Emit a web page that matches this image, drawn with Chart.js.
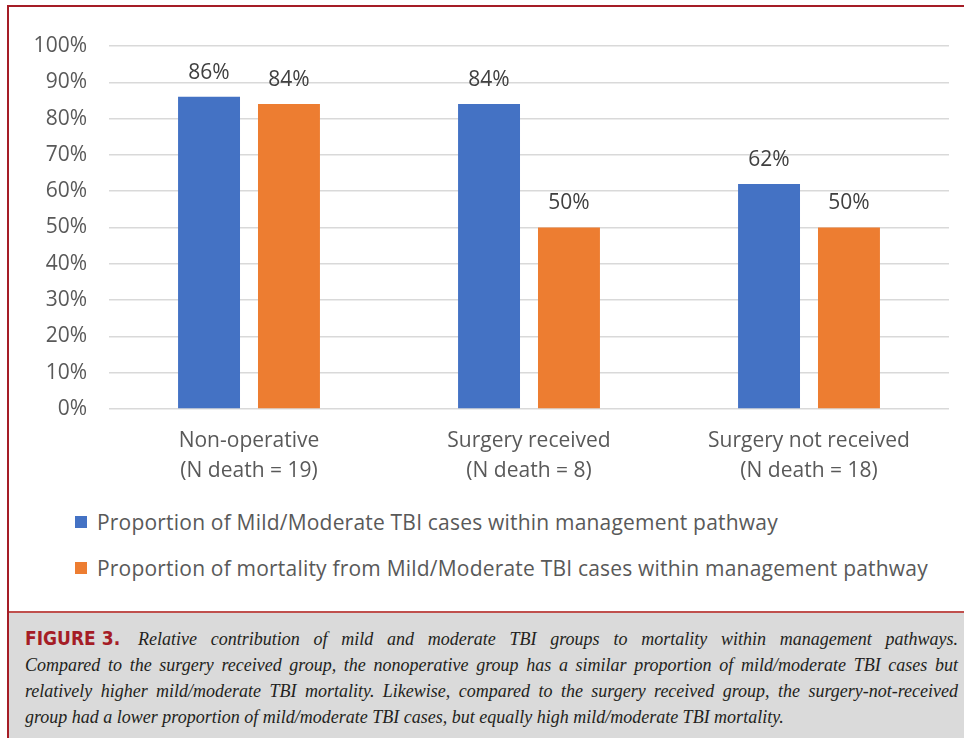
<!DOCTYPE html>
<html>
<head>
<meta charset="utf-8">
<script src="https://cdn.jsdelivr.net/npm/chart.js@4/dist/chart.umd.min.js"></script>
<style>
  html, body { margin: 0; padding: 0; background: #fff; }
  body { width: 964px; height: 738px; position: relative; overflow: hidden; font-family: "Open Sans", sans-serif; }
  #frame { position: absolute; left: 7px; top: 5px; width: 980px; height: 760px; border-left: 2px solid #a51d26; border-top: 2px solid #a51d26; }
  #chartBox { position: absolute; left: 9px; top: 8px; width: 955px; height: 487px; }
  #legend { position: absolute; left: 75px; top: 499px; font-size: 21px; letter-spacing: 0.2px; color: #595959; }
  .item { display: flex; align-items: center; height: 46px; }
  .swatch { width: 12px; height: 12px; margin-right: 10px; }
  #caption { position: absolute; left: 9px; top: 611px; width: 955px; height: 130px; background: #dadada; border-top: 2px solid #c0504d; }
  #caption .txt { position: absolute; left: 16px; width: 933px; top: 12px; font-family: "Liberation Serif", serif; font-style: italic; font-size: 18px; line-height: 26px; color: #231f20; }
  #caption .ln { text-align: justify; text-align-last: justify; white-space: nowrap; }
  #caption .ln.last { text-align-last: left; }
  #caption b { display: inline-block; white-space: nowrap; font-family: "DejaVu Sans Condensed", "Liberation Sans", sans-serif; font-stretch: condensed; font-style: normal; font-weight: bold; color: #a51d26; font-size: 19px; margin-right: 4px; }
</style>
</head>
<body>
<div id="frame"></div>
<div id="chartBox"><canvas id="chart"></canvas></div>
<div id="legend"></div>
<div id="caption"><div class="txt">
  <div class="ln"><b>FIGURE 3.</b> Relative contribution of mild and moderate TBI groups to mortality within management pathways.</div>
  <div class="ln">Compared to the surgery received group, the nonoperative group has a similar proportion of mild/moderate TBI cases but</div>
  <div class="ln">relatively higher mild/moderate TBI mortality. Likewise, compared to the surgery received group, the surgery-not-received</div>
  <div class="ln last">group had a lower proportion of mild/moderate TBI cases, but equally high mild/moderate TBI mortality.</div>
</div></div>
<script>
const categories = [
  ["Non-operative", "(N death = 19)"],
  ["Surgery received", "(N death = 8)"],
  ["Surgery not received", "(N death = 18)"],
];
const seriesLabels = [
  "Proportion of Mild/Moderate TBI cases within management pathway",
  "Proportion of mortality from Mild/Moderate TBI cases within management pathway",
];
const seriesColors = ["#4472c4", "#ed7d31"];
const mildModerateCases = [86, 84, 62];
const mortalityShare = [84, 50, 50];
const yTicks = [0, 10, 20, 30, 40, 50, 60, 70, 80, 90, 100];

const textColor = "#595959";
const fontFamily = "'Open Sans', sans-serif";

// value labels above bars
const barLabels = {
  id: "barLabels",
  afterDatasetsDraw(chart) {
    const ctx = chart.ctx;
    ctx.save();
    ctx.font = "21px " + fontFamily;
    ctx.fillStyle = "#404040";
    ctx.textAlign = "center";
    ctx.textBaseline = "middle";
    chart.data.datasets.forEach((ds, i) => {
      chart.getDatasetMeta(i).data.forEach((bar, j) => {
        ctx.fillText(ds.data[j] + "%", bar.x, bar.y - 24);
      });
    });
    ctx.restore();
  },
};

const legendEl = document.getElementById("legend");
seriesLabels.forEach((label, i) => {
  const row = document.createElement("div");
  row.className = "item";
  row.innerHTML = '<span class="swatch" style="background:' + seriesColors[i] + '"></span>' + label;
  legendEl.appendChild(row);
});

const ctx = document.getElementById("chart").getContext("2d");
new Chart(ctx, {
  type: "bar",
  data: {
    labels: categories,
    datasets: [
      { label: seriesLabels[0], data: mildModerateCases, backgroundColor: seriesColors[0] },
      { label: seriesLabels[1], data: mortalityShare, backgroundColor: seriesColors[1] },
    ],
  },
  options: {
    responsive: true,
    maintainAspectRatio: false,
    animation: false,
    categoryPercentage: 0.571,
    barPercentage: 0.775,
    layout: { padding: { top: 38, right: 15, bottom: 0, left: 0 } },
    scales: {
      x: {
        grid: { display: false },
        border: { display: false },
        ticks: {
          color: textColor,
          font: { size: 21, family: fontFamily, lineHeight: 1.43 },
          padding: 9,
          maxRotation: 0,
        },
      },
      y: {
        min: 0,
        max: 100,
        afterFit(scale) { scale.width = 100; },
        afterBuildTicks(scale) { scale.ticks = yTicks.map(v => ({ value: v })); },
        grid: { color: "#d9d9d9", lineWidth: 1.5, drawTicks: false },
        border: { display: false },
        ticks: {
          color: textColor,
          font: { size: 21, family: fontFamily },
          padding: 22,
          callback: v => v + "%",
        },
      },
    },
    plugins: {
      legend: { display: false },
      tooltip: { enabled: false },
    },
  },
  plugins: [barLabels],
});
</script>
</body>
</html>
